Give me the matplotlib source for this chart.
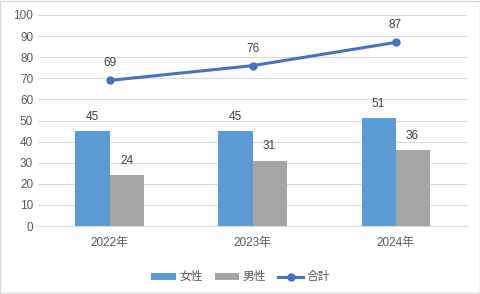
import numpy as np
import matplotlib
matplotlib.use("Agg")
import matplotlib.pyplot as plt

plt.rcParams['font.family'] = ['Liberation Sans', 'Noto Sans CJK JP', 'DejaVu Sans']

# データ
years = ['2022年', '2023年', '2024年']
female = [45, 45, 51]
male = [24, 31, 36]
total = [69, 76, 87]

text_c = '#595959'
fig = plt.figure(figsize=(4.81, 2.94), dpi=100)
ax = fig.add_axes([0.079, 0.231, 0.892, 0.718])

x = np.arange(len(years))
w = 0.238
b1 = ax.bar(x - w / 2, female, w, color='#5B9BD5', label='女性', zorder=2)
b2 = ax.bar(x + w / 2, male, w, color='#A5A5A5', label='男性', zorder=2)
ln, = ax.plot(x, total, color='#4472C4', lw=2.2, marker='o', ms=5, label='合計', zorder=3)

for bars, vals in ((b1, female), (b2, male)):
    for r, v in zip(bars, vals):
        ax.annotate(str(v), (r.get_x() + r.get_width() / 2, v), xytext=(0, 6),
                    textcoords='offset points', ha='center', va='bottom',
                    fontsize=8.5, color='#404040')
for xi, v in zip(x, total):
    ax.annotate(str(v), (xi, v), xytext=(0, 8), textcoords='offset points',
                ha='center', va='bottom', fontsize=8.5, color='#404040')

ax.set_xlim(-0.5, 2.5)
ax.set_ylim(0, 100)
ax.set_yticks(range(0, 101, 10))
ax.set_xticks(x)
ax.set_xticklabels(years)
ax.grid(axis='y', color='#D9D9D9', lw=0.8, zorder=0)
for s in ['top', 'right', 'left']:
    ax.spines[s].set_visible(False)
ax.spines['bottom'].set_color('#D9D9D9')
ax.tick_params(axis='both', length=0, labelsize=8.5, colors=text_c)
ax.tick_params(axis='x', pad=8)

fig.legend(handles=[b1, b2, ln], loc='lower center', ncol=3, frameon=False,
           bbox_to_anchor=(0.5, 0.0), fontsize=8.5, labelcolor=text_c,
           handlelength=2.1, handleheight=0.5, columnspacing=1.0, handletextpad=0.3)

fig.patches.append(plt.Rectangle((0.001, 0.002), 0.997, 0.995, transform=fig.transFigure,
                                 fill=False, edgecolor='#D9D9D9', lw=1))
fig.savefig('out.png', dpi=100)
